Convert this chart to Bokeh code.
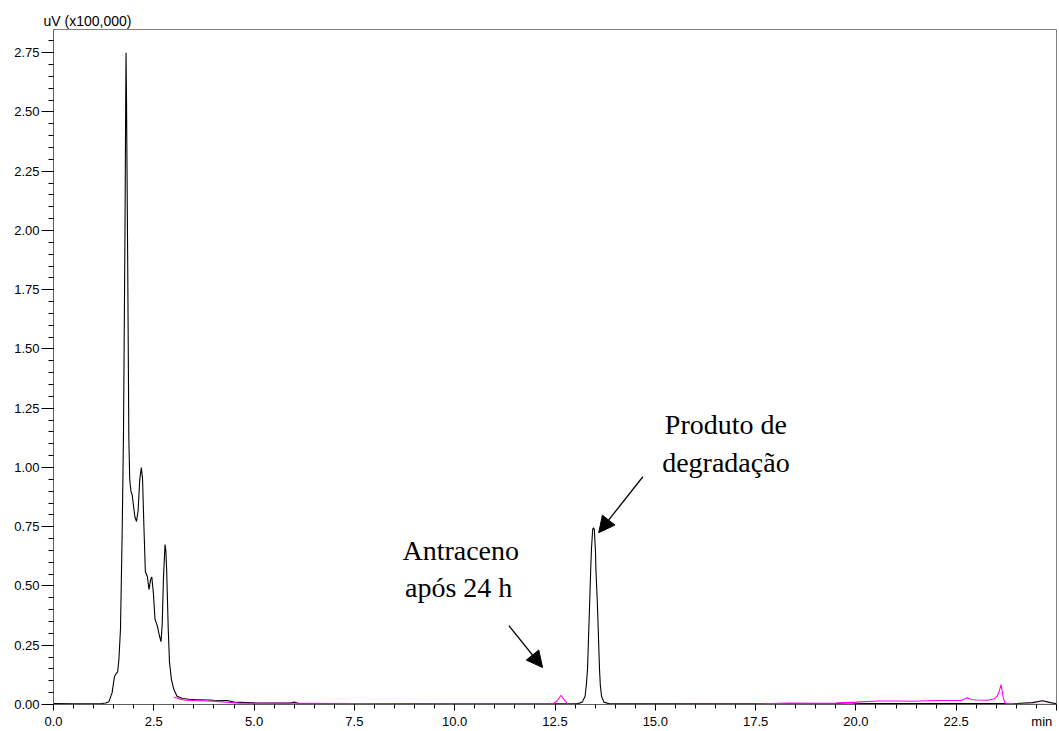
from bokeh.plotting import figure
from bokeh.models import (Range1d, FixedTicker, Label, Arrow, NormalHead,
                          ColumnDataSource)
from bokeh.embed import file_html
from bokeh.resources import INLINE

# Chromatogram traces: retention time (min) vs detector signal (uV x 100,000)
black_t = [0.0, 0.5, 1.0, 1.2, 1.30, 1.38, 1.46, 1.52, 1.56, 1.60, 1.63, 1.67,
           1.713, 1.745, 1.78, 1.80, 1.808, 1.82, 1.85, 1.878, 1.90, 1.93,
           1.96, 2.00, 2.03, 2.07, 2.11, 2.15, 2.19, 2.22, 2.25, 2.29, 2.34,
           2.38, 2.42, 2.45, 2.49, 2.53, 2.59, 2.64, 2.68, 2.71, 2.74, 2.78,
           2.80, 2.82, 2.86, 2.89, 2.94, 3.00, 3.08, 3.21, 3.38, 3.50, 3.99,
           4.33, 4.50, 5.0, 5.9, 6.0, 6.1, 7.5, 10.0, 12.5, 13.06, 13.18,
           13.25, 13.28, 13.31, 13.33, 13.35, 13.37, 13.39, 13.41, 13.44,
           13.46, 13.48, 13.51, 13.52, 13.55, 13.57, 13.59, 13.61, 13.63,
           13.66, 13.72, 13.85, 15.0, 17.5, 19.5, 19.8, 20.1, 22.5, 24.0,
           24.4, 24.65, 24.85, 25.0]
black_uv = [0.004, 0.003, 0.003, 0.004, 0.006, 0.012, 0.049, 0.118, 0.130,
            0.138, 0.19, 0.32, 0.74, 1.15, 1.95, 2.55, 2.75, 2.55, 1.85, 1.12,
            0.95, 0.90, 0.885, 0.83, 0.79, 0.772, 0.82, 0.95, 1.00, 0.95, 0.77,
            0.56, 0.54, 0.485, 0.527, 0.538, 0.47, 0.36, 0.33, 0.29, 0.265,
            0.34, 0.53, 0.675, 0.65, 0.57, 0.32, 0.18, 0.105, 0.063, 0.035,
            0.025, 0.022, 0.021, 0.018, 0.017, 0.010, 0.007, 0.006, 0.010,
            0.005, 0.004, 0.003, 0.003, 0.003, 0.010, 0.035, 0.08, 0.147,
            0.25, 0.358, 0.46, 0.569, 0.66, 0.74, 0.745, 0.74, 0.64, 0.569,
            0.45, 0.358, 0.25, 0.147, 0.08, 0.035, 0.010, 0.003, 0.003, 0.003,
            0.004, 0.008, 0.004, 0.004, 0.004, 0.008, 0.016, 0.008, 0.003]

magenta_t = [3.00, 3.10, 3.17, 3.30, 3.50, 3.67, 3.99, 4.3, 4.6, 5.0, 6.0, 7.5,
             9.0, 10.0, 12.0, 12.45, 12.55, 12.65, 12.75, 12.82, 13.0, 15.0,
             16.5, 17.5, 18.3, 19.0, 19.5, 20.0, 20.54, 21.0, 21.37, 22.04,
             22.62, 22.70, 22.77, 22.87, 23.0, 23.28, 23.45, 23.52, 23.57,
             23.62, 23.67, 23.72, 24.0, 25.0]
magenta_uv = [0.031, 0.026, 0.021, 0.018, 0.017, 0.016, 0.014, 0.010, 0.006,
              0.005, 0.005, 0.004, 0.003, 0.003, 0.003, 0.003, 0.015, 0.039,
              0.015, 0.002, 0.000, 0.000, 0.001, 0.002, 0.006, 0.005, 0.006,
              0.010, 0.015, 0.015, 0.014, 0.017, 0.017, 0.022, 0.028, 0.021,
              0.019, 0.018, 0.024, 0.035, 0.055, 0.084, 0.030, 0.006, 0.002,
              0.000]

x_ticks = [0.0, 2.5, 5.0, 7.5, 10.0, 12.5, 15.0, 17.5, 20.0, 22.5, 25.0]
# the last tick carries the time unit; trailing no-break spaces keep it
# clear of the right edge
x_tick_labels = ["0.0", "2.5", "5.0", "7.5", "10.0", "12.5", "15.0", "17.5",
                 "20.0", "22.5", "min\u00a0\u00a0"]
y_ticks = [0.0, 0.25, 0.5, 0.75, 1.0, 1.25, 1.5, 1.75, 2.0, 2.25, 2.5, 2.75]
y_tick_labels = ["0.00", "0.25", "0.50", "0.75", "1.00", "1.25", "1.50",
                 "1.75", "2.00", "2.25", "2.50", "2.75"]
x_minor = [i * 0.5 for i in range(51)]
y_minor = [i * 0.05 for i in range(58)]

TICK_FONT = "Liberation Sans"
NOTE_FONT = "Liberation Serif"

p = figure(width=1059, height=731, output_backend="svg", toolbar_location=None,
           x_range=Range1d(0, 25), y_range=Range1d(0, 2.848),
           min_border_left=53, min_border_right=3, min_border_top=29,
           min_border_bottom=26, title="uV (x100,000)")
p.title.align = "left"
p.title.offset = -10
p.title.standoff = 1
p.title.text_font = TICK_FONT
p.title.text_font_size = "14px"
p.title.text_font_style = "normal"
p.title.text_color = "black"

p.xgrid.visible = False
p.ygrid.visible = False
p.outline_line_color = "#808080"
p.outline_line_width = 1
p.background_fill_color = "white"
p.border_fill_color = "white"

for ax in (p.xaxis[0], p.yaxis[0]):
    ax.axis_line_color = "#606060"
    ax.major_tick_line_color = "black"
    ax.minor_tick_line_color = "black"
    ax.major_tick_in = 0
    ax.minor_tick_in = 0
    ax.major_label_text_font = TICK_FONT
    ax.major_label_text_font_size = "13px"
    ax.major_label_text_color = "black"

p.xaxis.ticker = FixedTicker(ticks=x_ticks, minor_ticks=x_minor)
p.xaxis.major_label_overrides = {t: s for t, s in zip(x_ticks, x_tick_labels)}
p.xaxis.major_tick_out = 6
p.xaxis.minor_tick_out = 4
p.xaxis.major_label_standoff = 3

p.yaxis.ticker = FixedTicker(ticks=y_ticks, minor_ticks=y_minor)
p.yaxis.major_label_overrides = {t: s for t, s in zip(y_ticks, y_tick_labels)}
p.yaxis.major_tick_out = 12
p.yaxis.minor_tick_out = 5
p.yaxis.major_label_standoff = 2

src_black = ColumnDataSource(dict(t=black_t, uv=black_uv))
src_mag = ColumnDataSource(dict(t=magenta_t, uv=magenta_uv))
p.line("t", "uv", source=src_black, line_color="black", line_width=1.1)
p.line("t", "uv", source=src_mag, line_color="#FF00FF", line_width=1.1)

# Peak annotations
notes = [
    (16.76, 1.18, "Produto de"),
    (16.76, 1.02, "degradação"),
    (10.15, 0.650, "Antraceno"),
    (10.10, 0.495, "após 24 h"),
]
for nx, ny, txt in notes:
    p.add_layout(Label(x=nx, y=ny, text=txt, text_font=NOTE_FONT,
                       text_font_size="28px", text_align="center",
                       text_baseline="middle", text_color="black"))

arrows = [
    (14.69, 0.961, 13.59, 0.725),
    (11.35, 0.333, 12.19, 0.156),
]
for x0, y0, x1, y1 in arrows:
    p.add_layout(Arrow(x_start=x0, y_start=y0, x_end=x1, y_end=y1,
                       line_color="black", line_width=1.3,
                       end=NormalHead(size=16, fill_color="black",
                                      line_color="black")))

open("out.html", "w").write(file_html(p, INLINE))
